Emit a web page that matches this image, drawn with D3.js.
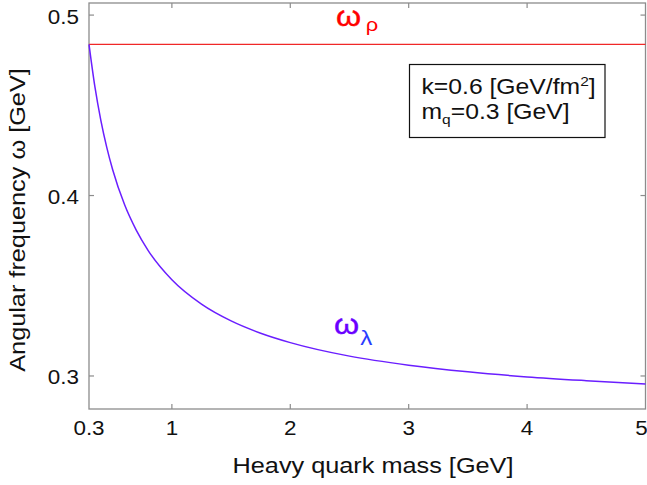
<!DOCTYPE html>
<html><head><meta charset="utf-8">
<script src="https://cdn.jsdelivr.net/npm/d3@7"></script>
<style>body{margin:0;background:#fff}svg{display:block}text{font-family:"Liberation Sans",Arial,Helvetica,sans-serif}</style>
</head><body>
<svg id="c" width="647" height="485"></svg>
<script>
// Data
const massX = [0.3, 0.35, 0.4, 0.45, 0.5, 0.6, 0.7, 0.8, 1.0, 1.25, 1.5, 1.75, 2.0, 2.5, 3.0, 3.5, 4.0, 4.5, 5.0];
const omegaLambda = [0.4838, 0.4602, 0.4417, 0.4267, 0.4143, 0.3950, 0.3807, 0.3695, 0.3533, 0.3398, 0.3305, 0.3237, 0.3185, 0.3110, 0.3060, 0.3023, 0.2995, 0.2974, 0.2956];
const omegaRho = 0.4838;
const xTicks = [0.3, 1, 2, 3, 4, 5];
const xTickLabels = ["0.3", "1", "2", "3", "4", "5"];
const yTicks = [0.3, 0.4, 0.5];
const yTickLabels = ["0.3", "0.4", "0.5"];
const xDomain = [0.3, 5];
const yDomain = [0.2817, 0.5067];

const svg = d3.select("#c");
const L = 89, R = 645.5, T = 3, B = 409;
const x = d3.scaleLinear().domain(xDomain).range([L, R]);
const y = d3.scaleLinear().domain(yDomain).range([B, T]);
const axisColor = "#8c8c8c";
const SX = 1.15; // wider glyphs as in reference

function txt(px, py, size, anchor, rot) {
  return svg.append("text")
    .attr("transform", `translate(${px},${py})` + (rot ? ` rotate(${rot})` : "") + ` scale(${SX},1)`)
    .attr("text-anchor", anchor || "start").attr("font-size", size).attr("fill", "#111");
}

// frame
svg.append("rect").attr("x", L).attr("y", T).attr("width", R - L).attr("height", B - T)
  .attr("fill", "none").attr("stroke", axisColor).attr("stroke-width", 1.3);

const tl = 5;
xTicks.forEach((t, i) => {
  const px = x(t);
  if (i > 0 && i < xTicks.length - 1) {
    svg.append("line").attr("x1", px).attr("x2", px).attr("y1", B).attr("y2", B - tl).attr("stroke", axisColor).attr("stroke-width", 1.2);
    svg.append("line").attr("x1", px).attr("x2", px).attr("y1", T).attr("y2", T + tl).attr("stroke", axisColor).attr("stroke-width", 1.2);
  }
  txt(px + (i === xTicks.length - 1 ? -4 : 0), 435, 19.5, "middle").text(xTickLabels[i]);
});
yTicks.forEach((t, i) => {
  const py = y(t);
  svg.append("line").attr("x1", L).attr("x2", L + tl).attr("y1", py).attr("y2", py).attr("stroke", axisColor).attr("stroke-width", 1.2);
  svg.append("line").attr("x1", R).attr("x2", R - tl).attr("y1", py).attr("y2", py).attr("stroke", axisColor).attr("stroke-width", 1.2);
  txt(79, py + 8.5, 19.5, "end").text(yTickLabels[i]);
});

// omega_rho horizontal line
svg.append("line").attr("x1", x(xDomain[0])).attr("x2", x(xDomain[1])).attr("y1", y(omegaRho)).attr("y2", y(omegaRho))
  .attr("stroke", "#f02828").attr("stroke-width", 1.3);

// omega_lambda curve
const line = d3.line().x((d, i) => x(massX[i])).y(d => y(d)).curve(d3.curveMonotoneX);
svg.append("path").datum(omegaLambda).attr("d", line).attr("fill", "none")
  .attr("stroke", "#6a1eff").attr("stroke-width", 1.5);

// labels on curves
const rl = txt(336, 25.5, 28, "start").attr("fill", "#ff0000");
rl.append("tspan").attr("font-size", 28).attr("stroke", "#ff0000").attr("stroke-width", 0.4).text("ω");
rl.append("tspan").attr("font-size", 19).attr("dy", 5.5).attr("dx", 4).text("ρ");

const ll = txt(334, 333.5, 28, "start");
ll.append("tspan").attr("font-size", 28).attr("fill", "#6a00ff").attr("stroke", "#6a00ff").attr("stroke-width", 0.4).text("ω");
ll.append("tspan").attr("font-size", 21).attr("dy", 11).attr("dx", 1).attr("fill", "#2a3cff").text("λ");

// info box
svg.append("rect").attr("x", 409.5).attr("y", 64.5).attr("width", 195.5).attr("height", 73)
  .attr("fill", "#fff").attr("stroke", "#111").attr("stroke-width", 1.2);
const t1 = txt(421.5, 93.5, 21.5, "start");
t1.append("tspan").text("k=0.6 [GeV/fm");
t1.append("tspan").attr("font-size", 13.5).attr("dy", -8).text("2");
t1.append("tspan").attr("dy", 8).text("]");
const t2 = txt(421.5, 118.5, 21.5, "start");
t2.append("tspan").text("m");
t2.append("tspan").attr("font-size", 13.5).attr("dy", 5).text("q");
t2.append("tspan").attr("dy", -5).text("=0.3 [GeV]");

// axis titles
txt(373, 473, 22, "middle").text("Heavy quark mass [GeV]");
txt(25, 220, 22, "middle", -90).text("Angular frequency ω [GeV]");
</script>
</body></html>
